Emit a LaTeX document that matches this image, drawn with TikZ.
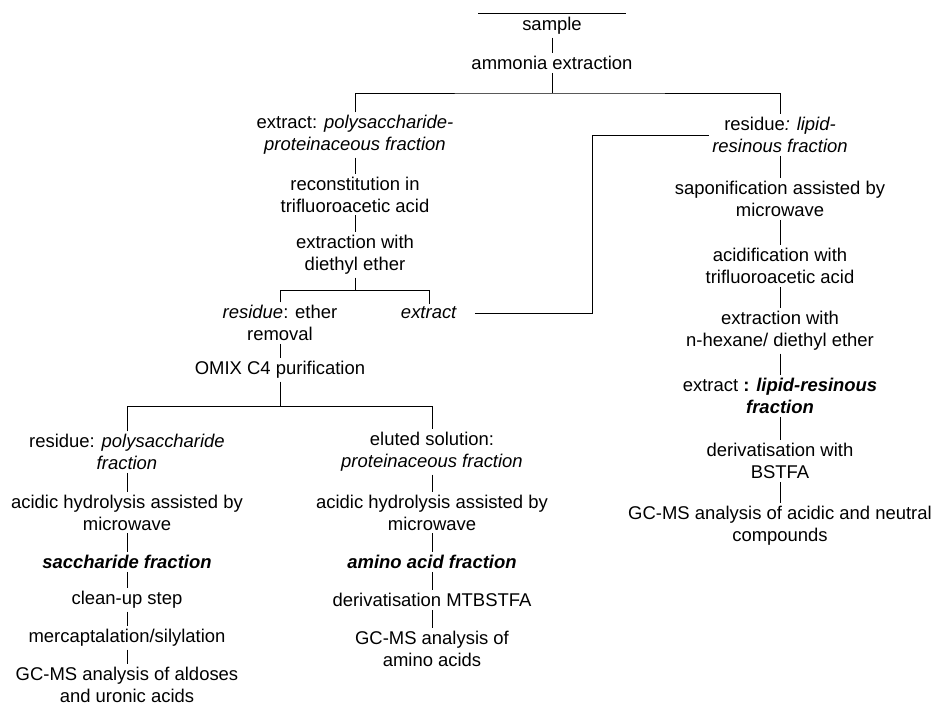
\documentclass[tikz,border=0pt]{standalone}
\usepackage{fontspec}
\setmainfont{Liberation Sans}
\usepackage{tikz}

\begin{document}
\begin{tikzpicture}
        % Define styles
        \tikzset{
            process/.style={align=center, inner sep=1.5pt, font=\fontsize{10.5}{12.5}\selectfont},
            link/.style={draw, line width=0.45pt}
        }
        \useasboundingbox (0,0) rectangle (18.7,-14.1);

        % Top
        \coordinate (rule_left) at (9.56,-0.26);
        \coordinate (rule_right) at (12.52,-0.26);
        \node[process] (sample_node) at (11.04,-0.52) {sample};
        \node[process] (ammonia_node) at (11.04,-1.26) {ammonia extraction};
        \coordinate (split_1) at (11.04,-1.86);

        % Polysaccharide-proteinaceous branch
        \node[process] (extract_node_1) at (7.10,-2.70) {extract: \textit{polysaccharide-}\\ \textit{proteinaceous fraction}};
        \node[process] (recon_node) at (7.10,-3.89) {reconstitution in\\ trifluoroacetic acid};
        \node[process] (ether_node) at (7.10,-5.10) {extraction with\\ diethyl ether};
        \coordinate (split_2) at (7.10,-5.80);
        \node[process] (removal_node) at (5.60,-6.46) {\textit{residue}: ether\\ removal};
        \node[process] (extract_node_2) at (8.58,-6.26) {\textit{extract}};
        \coordinate (bend) at (11.84,-6.26);
        \node[process] (omix_node) at (5.60,-7.40) {OMIX C4 purification};
        \coordinate (split_3) at (5.60,-8.12);

        % Saccharide column
        \node[process] (poly_node) at (2.54,-9.04) {residue: \textit{polysaccharide}\\ \textit{fraction}};
        \node[process] (hydro_node_1) at (2.54,-10.25) {acidic hydrolysis assisted by\\ microwave};
        \node[process] (sacc_node) at (2.54,-11.24) {\textbf{\textit{saccharide fraction}}};
        \node[process] (clean_node) at (2.54,-12.00) {clean-up step};
        \node[process] (merc_node) at (2.54,-12.76) {mercaptalation/silylation};
        \node[process] (gcms_node_1) at (2.54,-13.70) {GC-MS analysis of aldoses\\ and uronic acids};

        % Amino acid column
        \node[process] (eluted_node) at (8.64,-9.04) {eluted solution:\\ \textit{proteinaceous fraction}};
        \node[process] (hydro_node_2) at (8.64,-10.25) {acidic hydrolysis assisted by\\ microwave};
        \node[process] (amino_node) at (8.64,-11.24) {\textbf{\textit{amino acid fraction}}};
        \node[process] (deriv_node_1) at (8.64,-12.00) {derivatisation MTBSTFA};
        \node[process] (gcms_node_2) at (8.64,-12.98) {GC-MS analysis of\\ amino acids};

        % Lipid-resinous column
        \node[process] (residue_node) at (15.6,-2.70) {residue\textit{: lipid-}\\ \textit{resinous fraction}};
        \node[process] (sapon_node) at (15.6,-3.98) {saponification assisted by\\ microwave};
        \node[process] (acid_node) at (15.6,-5.32) {acidification with\\ trifluoroacetic acid};
        \node[process] (hexane_node) at (15.6,-6.62) {extraction with\\ n-hexane/ diethyl ether};
        \node[process] (lipid_node) at (15.6,-7.92) {extract \textbf{: \textit{lipid-resinous}}\\ \textbf{\textit{fraction}}};
        \node[process] (deriv_node_2) at (15.6,-9.22) {derivatisation with\\ BSTFA};
        \node[process] (gcms_node_3) at (15.6,-10.52) {GC-MS analysis of acidic and neutral\\ compounds};

        % Lines
        \draw[link] (rule_left) -- (rule_right);
        \draw[link] (sample_node) -- (ammonia_node);
        \draw[link] (ammonia_node) -- (split_1);
        \draw[link] (extract_node_1.north) |- (split_1) -| (residue_node.north);
        \draw[link] (extract_node_1) -- (recon_node);
        \draw[link] (recon_node) -- (ether_node);
        \draw[link] (ether_node) -- (split_2);
        \draw[link] (removal_node.north) |- (split_2) -| (extract_node_2.north);
        \draw[link] (extract_node_2.east) ++(0.3,0) -- (bend) |- (residue_node.west);
        \draw[link] (removal_node) -- (omix_node);
        \draw[link] (omix_node) -- (split_3);
        \draw[link] (poly_node.north) |- (split_3) -| (eluted_node.north);

        \draw[link] (poly_node) -- (hydro_node_1);
        \draw[link] (hydro_node_1) -- (sacc_node);
        \draw[link] (sacc_node) -- (clean_node);
        \draw[link] (clean_node) -- (merc_node);
        \draw[link] (merc_node) -- (gcms_node_1);

        \draw[link] (eluted_node) -- (hydro_node_2);
        \draw[link] (hydro_node_2) -- (amino_node);
        \draw[link] (amino_node) -- (deriv_node_1);
        \draw[link] (deriv_node_1) -- (gcms_node_2);

        \draw[link] (residue_node) -- (sapon_node);
        \draw[link] (sapon_node) -- (acid_node);
        \draw[link] (acid_node) -- (hexane_node);
        \draw[link] (hexane_node) -- (lipid_node);
        \draw[link] (lipid_node) -- (deriv_node_2);
        \draw[link] (deriv_node_2) -- (gcms_node_3);
    \end{tikzpicture}
\end{document}
